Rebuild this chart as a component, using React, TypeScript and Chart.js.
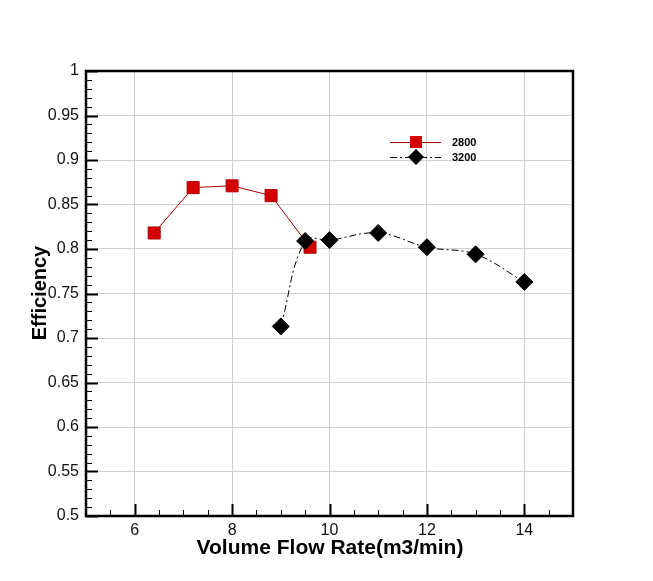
import React, { useEffect, useRef } from "react";
import { Chart, registerables } from "chart.js";

Chart.register(...registerables);

const flow2800 = [6.4, 7.2, 8.0, 8.8, 9.6];
const eff2800 = [0.818, 0.869, 0.871, 0.86, 0.802];
const flow3200 = [9.0, 9.5, 10, 11, 12, 13, 14];
const eff3200 = [0.713, 0.809, 0.81, 0.818, 0.802, 0.794, 0.763];
const seriesNames = ["2800", "3200"];
const xTickValues = [6, 8, 10, 12, 14];
const xTitle = "Volume Flow Rate(m3/min)";
const yTitle = "Efficiency";

const FONT = "'Liberation Sans', Arial, sans-serif";

const framePlugin = {
  id: "frame",
  afterDatasetsDraw(chart: any) {
    const ctx = chart.ctx;
    const { left, right, top, bottom } = chart.chartArea;
    const xs = chart.scales.x;
    const ys = chart.scales.y;
    ctx.save();
    ctx.strokeStyle = "#000";
    for (let i = 0; i <= 20; i++) {
      const v = 5 + i * 0.5;
      const px = Math.round(xs.getPixelForValue(v)) + 0.5;
      const major = i % 4 === 2;
      ctx.lineWidth = major ? 2 : 1;
      ctx.beginPath();
      ctx.moveTo(px, bottom);
      ctx.lineTo(px, bottom - (major ? 12 : 6));
      ctx.stroke();
    }
    for (let i = 0; i <= 50; i++) {
      const v = 0.5 + i * 0.01;
      const py = Math.round(ys.getPixelForValue(v)) + 0.5;
      const major = i % 5 === 0;
      ctx.lineWidth = major ? 2 : 1;
      ctx.beginPath();
      ctx.moveTo(left, py);
      ctx.lineTo(left + (major ? 12 : 6), py);
      ctx.stroke();
    }
    ctx.lineWidth = 2.5;
    ctx.strokeRect(left, top, right - left, bottom - top);

    // titles
    ctx.fillStyle = "#000";
    ctx.font = `bold 21px ${FONT}`;
    ctx.textAlign = "center";
    ctx.textBaseline = "middle";
    ctx.fillText(xTitle, 330, 548);
    ctx.font = `bold 20px ${FONT}`;
    ctx.save();
    ctx.translate(40, 293);
    ctx.rotate(-Math.PI / 2);
    ctx.fillText(yTitle, 0, 0);
    ctx.restore();

    // legend
    const lx0 = 390, lx1 = 441, lmid = 416;
    const rows = [
      { y: 142, color: "#aa0000", fill: "#d40000", dash: [] as number[], shape: "rect" },
      { y: 157, color: "#000", fill: "#000", dash: [7, 3, 2, 3], shape: "diamond" },
    ];
    rows.forEach((r, i) => {
      ctx.strokeStyle = r.color;
      ctx.lineWidth = 1;
      ctx.setLineDash(r.dash);
      ctx.beginPath();
      ctx.moveTo(lx0, r.y + 0.5);
      ctx.lineTo(lx1, r.y + 0.5);
      ctx.stroke();
      ctx.setLineDash([]);
      ctx.fillStyle = r.fill;
      if (r.shape === "rect") {
        ctx.fillRect(lmid - 6, r.y - 6, 12, 12);
      } else {
        ctx.beginPath();
        ctx.moveTo(lmid, r.y - 8);
        ctx.lineTo(lmid + 8, r.y);
        ctx.lineTo(lmid, r.y + 8);
        ctx.lineTo(lmid - 8, r.y);
        ctx.closePath();
        ctx.fill();
      }
      ctx.fillStyle = "#000";
      ctx.font = `bold 11px ${FONT}`;
      ctx.textAlign = "left";
      ctx.textBaseline = "middle";
      ctx.fillText(seriesNames[i], 452, r.y + 1);
    });
    ctx.restore();
  },
};

export default function App() {
  const ref = useRef<HTMLCanvasElement | null>(null);
  useEffect(() => {
    if (!ref.current) return;
    const chart = new Chart(ref.current, {
      type: "line",
      data: {
        datasets: [
          {
            label: seriesNames[0],
            data: flow2800.map((x, i) => ({ x, y: eff2800[i] })),
            borderColor: "#aa0000",
            borderWidth: 1,
            backgroundColor: "#d40000",
            pointStyle: "rect",
            pointRadius: 8.5,
            pointBorderColor: "#b00000",
            pointBorderWidth: 1,
            tension: 0,
            order: 1,
          },
          {
            label: seriesNames[1],
            data: flow3200.map((x, i) => ({ x, y: eff3200[i] })),
            borderColor: "#000",
            borderWidth: 1,
            borderDash: [7, 3, 2, 3],
            backgroundColor: "#000",
            pointStyle: "rectRot",
            pointRadius: 8.5,
            pointBorderColor: "#000",
            pointBorderWidth: 1,
            tension: 0.4,
            order: 0,
          },
        ],
      },
      options: {
        animation: false,
        responsive: false,
        maintainAspectRatio: false,
        layout: { padding: { left: 0, right: 80, top: 71, bottom: 0 } },
        plugins: { legend: { display: false }, tooltip: { enabled: false } },
        scales: {
          x: {
            type: "linear",
            min: 5,
            max: 15,
            afterBuildTicks: (s: any) => {
              s.ticks = xTickValues.map((v) => ({ value: v }));
            },
            ticks: {
              color: "#111",
              font: { family: FONT, size: 16 },
              padding: 5,
              callback: (v: any) => String(v),
            },
            grid: { color: "#d0d0d0", drawTicks: false, lineWidth: 1 },
            border: { display: false },
            afterFit: (s: any) => {
              s.height = 65;
            },
          },
          y: {
            type: "linear",
            min: 0.5,
            max: 1,
            ticks: {
              stepSize: 0.05,
              color: "#111",
              font: { family: FONT, size: 16 },
              padding: 7,
              callback: (v: any) => String(Number(Number(v).toFixed(2))),
            },
            grid: { color: "#d0d0d0", drawTicks: false, lineWidth: 1 },
            border: { display: false },
            afterFit: (s: any) => {
              s.width = 86;
            },
          },
        },
      },
      plugins: [framePlugin],
    });
    return () => chart.destroy();
  }, []);
  return (
    <div style={{ position: "absolute", left: 0, top: 0, width: 653, height: 581, background: "#fff" }}>
      <canvas ref={ref} width={653} height={581} style={{ width: 653, height: 581, display: "block" }} />
    </div>
  );
}
